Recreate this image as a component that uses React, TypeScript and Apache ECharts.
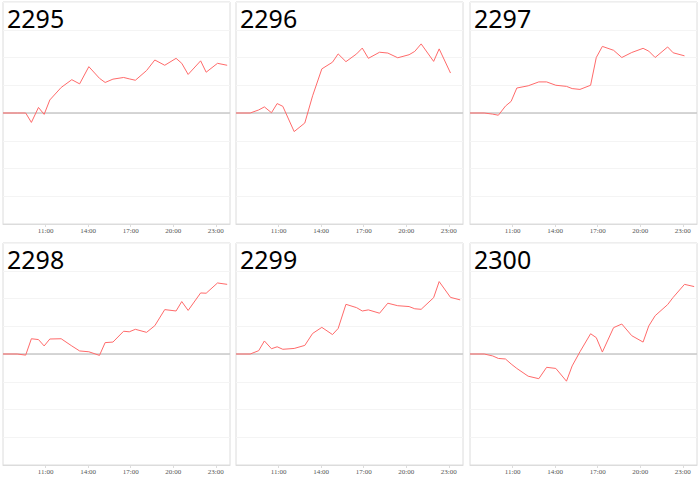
import React, { useEffect, useRef } from "react";
import * as echarts from "echarts";

const titles = ["2295", "2296", "2297", "2298", "2299", "2300"];

// hour of day for each sample
const hours = [8.0, 9.0, 9.6, 10.0, 10.5, 10.9, 11.3, 12.1, 12.85, 13.4, 14.05, 14.8, 15.2, 15.75, 16.5, 16.9, 17.33, 18.12, 18.7, 19.4, 20.2, 20.6, 21.05, 21.93, 22.32, 23.12, 23.8];

const s2295 = [0, 0, 0, -0.34, 0.2, -0.05, 0.47, 0.92, 1.2, 1.05, 1.67, 1.25, 1.1, 1.22, 1.28, 1.23, 1.18, 1.53, 1.91, 1.72, 1.97, 1.79, 1.39, 1.88, 1.47, 1.79, 1.72];
const s2296 = [0, 0, 0.11, 0.22, 0.01, 0.34, 0.24, -0.67, -0.36, 0.62, 1.59, 1.83, 2.13, 1.85, 2.13, 2.34, 1.97, 2.19, 2.16, 1.99, 2.1, 2.22, 2.49, 1.86, 2.31, 1.44, null];
const s2297 = [0, 0, -0.04, -0.08, 0.25, 0.42, 0.9, 0.98, 1.12, 1.12, 1.0, 0.96, 0.88, 0.85, 1.0, 2.0, 2.4, 2.26, 2.0, 2.18, 2.33, 2.23, 2.0, 2.38, 2.17, 2.06, null];
const s2298 = [0, 0, -0.04, 0.55, 0.52, 0.29, 0.54, 0.55, 0.29, 0.11, 0.08, -0.05, 0.41, 0.43, 0.82, 0.8, 0.89, 0.78, 1.02, 1.6, 1.55, 1.89, 1.57, 2.2, 2.19, 2.56, 2.51];
const s2299 = [0, 0, 0.12, 0.47, 0.19, 0.26, 0.17, 0.2, 0.31, 0.74, 0.96, 0.7, 0.92, 1.79, 1.67, 1.55, 1.59, 1.47, 1.83, 1.74, 1.71, 1.63, 1.61, 2.03, 2.61, 2.04, 1.95];
const s2300 = [0, 0, -0.07, -0.16, -0.18, -0.36, -0.52, -0.8, -0.89, -0.48, -0.52, -0.98, -0.43, 0.08, 0.73, 0.59, 0.07, 0.95, 1.08, 0.66, 0.43, 1.01, 1.38, 1.78, 2.04, 2.51, 2.43];

const seriesValues = [s2295, s2296, s2297, s2298, s2299, s2300];

const startHour = 8;
const endHour = 24;
const tickStep = 3;
const yMin = -4;
const yMax = 4;

const colLefts = [3, 236, 470];
const rowTops = [2, 243];
const gridW = 227;
const gridH = 222;

export default function App() {
  const ref = useRef<HTMLDivElement>(null);
  useEffect(() => {
    if (!ref.current) return;
    const chart = echarts.init(ref.current, undefined, { renderer: "svg" });
    const grids: any[] = [];
    const xAxes: any[] = [];
    const yAxes: any[] = [];
    const series: any[] = [];
    const graphics: any[] = [];
    titles.forEach((t, i) => {
      const left = colLefts[i % 3];
      const top = rowTops[Math.floor(i / 3)];
      grids.push({
        left,
        top,
        width: gridW,
        height: gridH,
        show: true,
        borderColor: "#dcdcdc",
        borderWidth: 1,
        backgroundColor: "#fff",
      });
      xAxes.push({
        type: "value",
        gridIndex: i,
        min: 0,
        max: endHour - startHour,
        interval: tickStep,
        axisLine: { onZero: false, lineStyle: { color: "#dcdcdc" } },
        axisTick: { show: true, length: 3, inside: false, lineStyle: { color: "#dcdcdc" } },
        splitLine: { show: false },
        axisLabel: {
          showMinLabel: false,
          showMaxLabel: false,
          margin: 3,
          fontSize: 7,
          color: "#555",
          fontFamily: "Liberation Serif",
          formatter: (v: number) => `${v + startHour}:00`,
        },
      });
      yAxes.push({
        type: "value",
        gridIndex: i,
        min: yMin,
        max: yMax,
        interval: 1,
        axisLine: { show: false },
        axisTick: { show: false },
        axisLabel: { show: false },
        splitLine: { lineStyle: { color: "#f4f4f4", width: 1 } },
      });
      series.push({
        type: "line",
        xAxisIndex: i,
        yAxisIndex: i,
        data: hours.map((h, k) => [h - startHour, seriesValues[i][k]]),
        showSymbol: false,
        symbol: "none",
        connectNulls: false,
        lineStyle: { color: "#ff6a6a", width: 1 },
        markLine: {
          silent: true,
          symbol: "none",
          label: { show: false },
          lineStyle: { color: "#c8c8c8", width: 1.5, type: "solid" },
          data: [{ yAxis: 0 }],
          z: 1,
        },
        z: 3,
      });
      graphics.push({
        type: "text",
        left: left + 4,
        top: top + 3,
        style: {
          text: t,
          fontSize: 25,
          fontFamily: "Noto Sans",
          fill: "#000",
        },
        z: 10,
      });
    });
    chart.setOption({
      animation: false,
      backgroundColor: "#fff",
      grid: grids,
      xAxis: xAxes,
      yAxis: yAxes,
      series,
      graphic: graphics,
    });
    return () => chart.dispose();
  }, []);
  return (
    <div
      ref={ref}
      style={{ position: "absolute", left: 0, top: 0, width: 700, height: 484, background: "#fff" }}
    />
  );
}
